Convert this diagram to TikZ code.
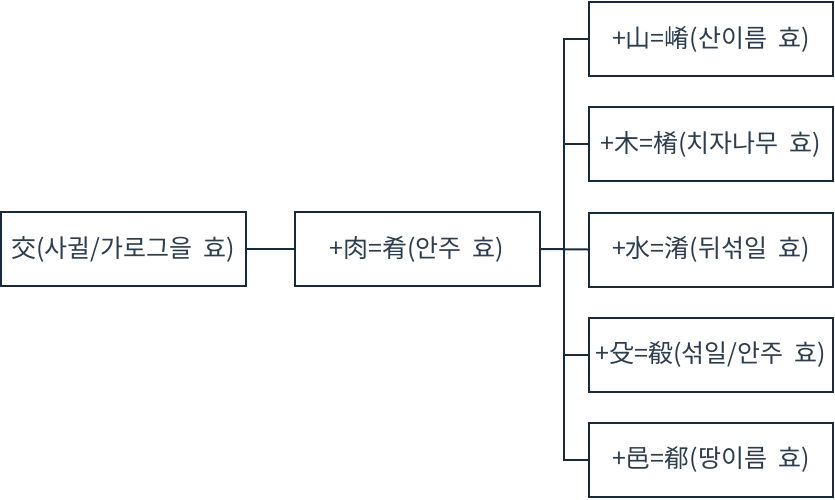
\documentclass[tikz,border=0pt]{standalone}
\usepackage{fontspec}
\setmainfont{Noto Sans CJK KR}
\definecolor{lineC}{HTML}{1B2A3A}
\definecolor{textC}{HTML}{2E3D4D}
\begin{document}
\begin{tikzpicture}[x=1pt,y=-1pt,
  box/.style={draw=lineC,line width=2pt,fill=white,minimum width=#1,minimum height=74pt,inner sep=0pt,text=textC,font=\fontsize{25}{30}\selectfont,anchor=center},
  conn/.style={draw=lineC,line width=2pt}]
\useasboundingbox (0,0) rectangle (835,499);
\node[box=245pt] (root) at (123,249) {交(사귈/가로그을\ \ 효)};
\node[box=245pt] (mid) at (417,249) {+肉=肴(안주\ \ 효)};
\node[box=244pt] (b1) at (711,39) {+山=\char"5D24(산이름\ \ 효)};
\node[box=244pt] (b2) at (711,144) {+木=\char"3B81(치자나무\ \ 효)};
\node[box=244pt] (b3) at (711,249.5) {+水=淆(뒤섞일\ \ 효)};
\node[box=244pt] (b4) at (711,354.5) {+殳=殽(섞일/안주\ \ 효)};
\node[box=244pt] (b5) at (711,460) {+邑=郩(땅이름\ \ 효)};
\coordinate (t) at (564,249);
\draw[conn] (root.east) -- (mid.west);
\draw[conn] (mid.east) -- (b3.west);
\draw[conn] (b1.west) -| (t) |- (b5.west);
\draw[conn] (b2.west) -- (b2.west -| t);
\draw[conn] (b4.west) -- (b4.west -| t);
\end{tikzpicture}
\end{document}
